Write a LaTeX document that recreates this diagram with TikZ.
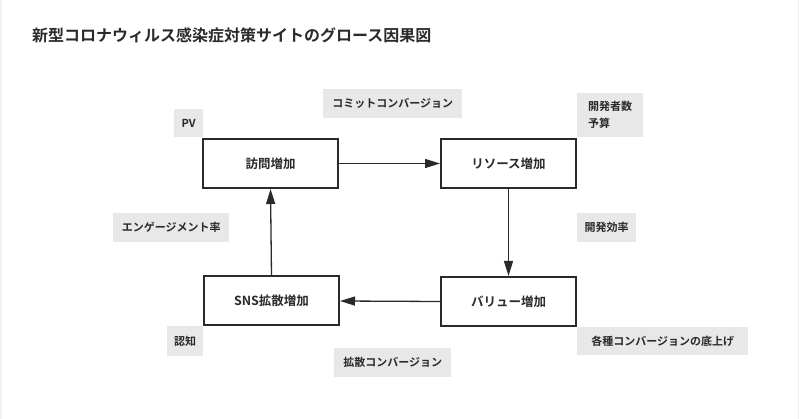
\documentclass[tikz,border=0pt]{standalone}
\usepackage{fontspec}
\setmainfont{Noto Sans CJK JP}
\newfontfamily\jpb{Noto Sans CJK JP Bold}
\usetikzlibrary{arrows.meta}
\definecolor{lab}{HTML}{E8E8E8}
\definecolor{ink}{HTML}{2A2A2A}
\tikzset{
  stage/.style={draw=ink, line width=2pt, minimum width=135pt, minimum height=49pt, inner sep=0pt,
    font=\jpb\fontsize{12.5}{14}\selectfont, text=ink},
  tag/.style={fill=lab, anchor=north west, inner xsep=7pt, inner ysep=0pt, align=left,
    font=\jpb\fontsize{11}{17}\selectfont, text=ink},
  flow/.style={draw=ink, line width=1.3pt, -{Triangle[length=15pt,width=9pt]}}
}
\begin{document}
\begin{tikzpicture}[x=1pt,y=-1pt]
\useasboundingbox (0,0) rectangle (800,419);
\draw[gray!12, line width=1.5pt] (0.75,0) -- (0.75,419);
\draw[gray!12, line width=1.5pt] (798.5,0) -- (798.5,419);
\node[anchor=west, font=\jpb\fontsize{16}{18}\selectfont, text=ink, inner sep=0pt] (title) at (32,35) {新型コロナウィルス感染症対策サイトのグロース因果図};
% stages
\node[stage] (visit) at (270.5,163.5) {訪問増加};
\node[stage] (res) at (508.5,163.5) {リソース増加};
\node[stage] (val) at (508.5,301.5) {バリュー増加};
\node[stage] (sns) at (271.5,301) {SNS拡散増加};
% connectors
\draw[flow] (visit.east) -- (res.west);
\draw[flow] (res.south) -- (val.north);
\draw[flow] (val.west) -- (sns.east);
\draw[flow] (sns.north) -- (visit.south);
% tags
\node[tag, minimum width=29pt, minimum height=28pt, inner xsep=5pt] (pv) at (174,109) {PV};
\node[tag, minimum width=139pt, minimum height=29pt] (commit) at (323,89) {コミットコンバージョン};
\node[tag, minimum width=66pt, minimum height=44pt] (dev) at (577,93) {開発者数\\予算};
\node[tag, minimum width=59pt, minimum height=29pt] (eff) at (577,213) {開発効率};
\node[tag, minimum width=171pt, minimum height=28pt] (conv) at (577,327) {各種コンバージョンの底上げ};
\node[tag, minimum width=116pt, minimum height=29pt] (eng) at (113,213) {エンゲージメント率};
\node[tag, minimum width=36pt, minimum height=30pt] (nin) at (167,326) {認知};
\node[tag, minimum width=117pt, minimum height=29pt] (spread) at (334,348) {拡散コンバージョン};
\end{tikzpicture}
\end{document}
